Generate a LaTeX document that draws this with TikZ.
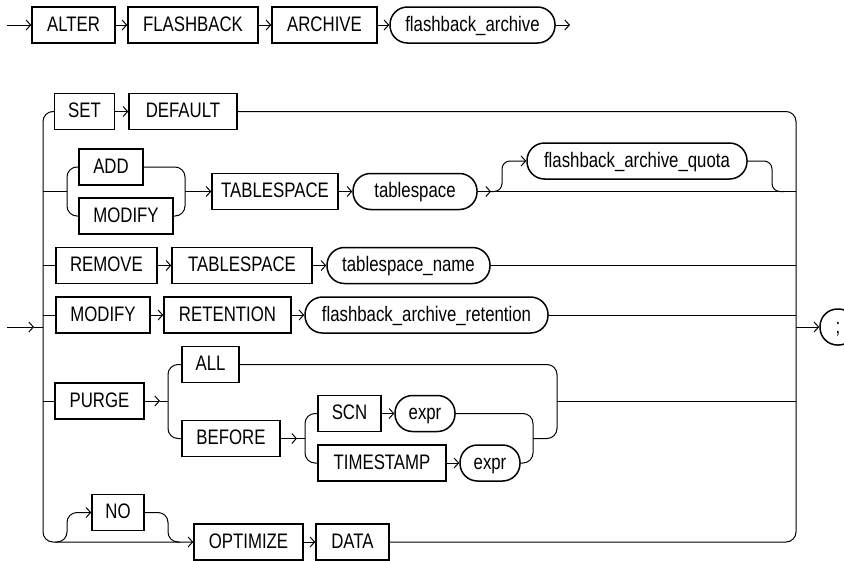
\documentclass[tikz,border=0pt]{standalone}
\usepackage{fontspec}
\usetikzlibrary{arrows.meta}
\newfontfamily\rrfont[FakeStretch=0.8]{Liberation Sans}
\tikzset{
  base/.style={draw, line width=1.5pt, minimum height=36pt, inner sep=0pt,
    text height=15pt, text depth=3pt,
    font={\rrfont\fontsize{21pt}{21pt}\selectfont}},
  kw/.style={base},
  var/.style={base, rounded corners=17.5pt},
  ln/.style={line width=1pt},
  arr/.style={ln, -{Straight Barb[length=4.5pt,width=10pt]}},
  rc/.style={rounded corners=10pt},
}
\begin{document}
\begin{tikzpicture}[x=1pt,y=-1pt]
\useasboundingbox (0,0) rectangle (844,560);
% ---- row 1
\node[kw, minimum width=83pt]  (alter)     at (73.5,25)  {ALTER};
\node[kw, minimum width=130pt] (flashback) at (193,25)   {FLASHBACK};
\node[kw, minimum width=105pt] (archive)   at (324.5,25) {ARCHIVE};
\node[var, minimum width=165pt] (fa)       at (472.5,25) {flashback\_archive};
\coordinate (s0) at (7,25);
\coordinate (e0) at (570,25);
\draw[arr] (s0) -- (alter.west);
\draw[arr] (alter.east) -- (flashback.west);
\draw[arr] (flashback.east) -- (archive.west);
\draw[arr] (archive.east) -- (fa.west);
\draw[arr] (fa.east) -- (e0);
% ---- nodes of the second diagram
\node[kw, minimum width=60pt]  (set)     at (84.5,111.5) {SET};
\node[kw, minimum width=108pt] (default) at (183,111.5)  {DEFAULT};
\node[kw, minimum width=64pt]  (add)     at (111,167)    {ADD};
\node[kw, minimum width=94pt]  (mod1)    at (126,216)    {MODIFY};
\node[kw, minimum width=126pt] (ts1)     at (275,191.5)  {TABLESPACE};
\node[var, minimum width=124pt] (tsv)    at (415,191.5)  {tablespace};
\node[var, minimum width=220pt] (quota)  at (637,161)    {flashback\_archive\_quota};
\node[kw, minimum width=101pt] (remove)  at (106.5,265.5) {REMOVE};
\node[kw, minimum width=140pt] (ts2)     at (242,265.5)  {TABLESPACE};
\node[var, minimum width=163pt] (tsname) at (408.5,265.5) {tablespace\_name};
\node[kw, minimum width=94pt]  (mod2)    at (103,315)    {MODIFY};
\node[kw, minimum width=127pt] (ret)     at (227.5,315)  {RETENTION};
\node[var, minimum width=243pt] (retv)   at (426.5,315)  {flashback\_archive\_retention};
\node[kw, minimum width=89pt]  (purge)   at (99.5,401)   {PURGE};
\node[kw, minimum width=57pt]  (all)     at (210.5,364.5) {ALL};
\node[kw, minimum width=98pt]  (before)  at (231,438.5)  {BEFORE};
\node[kw, minimum width=63pt]  (scn)     at (349.5,413.5) {SCN};
\node[var, minimum width=60pt] (expr1)   at (425,413.5)  {expr};
\node[kw, minimum width=128pt] (ts3)     at (382,463)    {TIMESTAMP};
\node[var, minimum width=60pt] (expr2)   at (490,463)    {expr};
\node[kw, minimum width=52pt]  (no)      at (118,512.5)  {NO};
\node[kw, minimum width=109pt] (optimize) at (248.5,542) {OPTIMIZE};
\node[kw, minimum width=73pt]  (data)    at (352.5,542)  {DATA};
\node[var, minimum width=36pt] (semi)    at (838,327)    {;};
% ---- frame
\coordinate (s1) at (7,327);
\coordinate (s1t) at (34,327);
\draw[arr] (s1) -- (s1t);
\draw[ln] (s1t) -- (43,327);
\draw[arr, rc] (set.west) -- (43,111.5) -- (43,542) -- (optimize.west);
\draw[arr] (set.east) -- (default.west);
\draw[ln, rc] (default.east) -- (796,111.5) -- (796,542) -- (data.east);
\draw[arr] (796,327) -- (semi.west);
% ---- ADD / MODIFY TABLESPACE
\draw[ln] (43,191.5) -- (67,191.5);
\draw[ln, rc] (add.west) -| (67,191.5) |- (mod1.west);
\draw[ln, rc] (add.east) -| (185,191.5) |- (mod1.east);
\draw[arr] (185,191.5) -- (ts1.west);
\draw[arr] (ts1.east) -- (tsv.west);
\coordinate (q0) at (491,191.5);
\draw[arr] (tsv.east) -- (q0);
\draw[ln] (q0) -- (796,191.5);
\draw[arr, rounded corners=8pt] (q0) -| (502,161) -- (quota.west);
\draw[ln, rounded corners=8pt] (quota.east) -| (772,191.5) -- (784,191.5);
% ---- REMOVE
\draw[ln] (43,265.5) -- (remove.west);
\draw[arr] (remove.east) -- (ts2.west);
\draw[arr] (ts2.east) -- (tsname.west);
\draw[ln] (tsname.east) -- (796,265.5);
% ---- MODIFY RETENTION
\draw[ln] (43,315) -- (mod2.west);
\draw[arr] (mod2.east) -- (ret.west);
\draw[arr] (ret.east) -- (retv.west);
\draw[ln] (retv.east) -- (796,315);
% ---- PURGE
\draw[ln] (43,401) -- (purge.west);
\coordinate (p0) at (160,401);
\draw[arr] (purge.east) -- (p0);
\draw[ln] (p0) -- (168,401);
\draw[ln, rc] (all.west) -| (168,401) |- (before.west);
\draw[ln, rc] (all.east) -| (557,401) |- (533,438.5);
\draw[ln] (557,401) -- (796,401);
\coordinate (b0) at (297,438.5);
\draw[arr] (before.east) -- (b0);
\draw[ln] (b0) -- (305,438.5);
\draw[ln, rc] (scn.west) -| (305,438.5) |- (ts3.west);
\draw[arr] (scn.east) -- (expr1.west);
\draw[arr] (ts3.east) -- (expr2.west);
\draw[ln, rc] (expr1.east) -| (533,438.5) |- (expr2.east);
% ---- NO OPTIMIZE DATA
\draw[arr, rc] (55,542) -| (67,512.5) -- (no.west);
\draw[ln, rc] (no.east) -| (168,542) -- (180,542);
\draw[arr] (optimize.east) -- (data.west);
\end{tikzpicture}
\end{document}
